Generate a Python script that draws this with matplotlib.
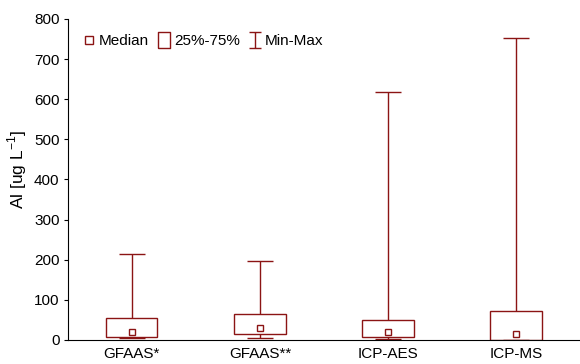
import numpy as np
import matplotlib.pyplot as plt
from matplotlib.patches import Rectangle
from matplotlib.lines import Line2D
from matplotlib.path import Path

plt.rcParams['font.family'] = ['Liberation Sans', 'DejaVu Sans']
plt.rcParams['font.size'] = 11

methods = ['GFAAS*', 'GFAAS**', 'ICP-AES', 'ICP-MS']
al_min = [4, 4, 3, 0]
al_q25 = [8, 15, 7, 0]
al_median = [20, 29, 19, 15]
al_q75 = [55, 65, 49, 72]
al_max = [215, 197, 618, 753]

red = '#8b1414'
box_w = 0.4
cap_w = 0.2

fig = plt.figure(figsize=(5.8, 3.64), dpi=100)
ax = fig.add_axes([0.117, 0.066, 0.883, 0.882])

pos = np.arange(1, len(methods) + 1)
for x, lo, q1, med, q3, hi in zip(pos, al_min, al_q25, al_median, al_q75, al_max):
    ax.add_patch(Rectangle((x - box_w / 2, q1), box_w, q3 - q1,
                           fill=False, edgecolor=red, lw=1.0))
    ax.vlines(x, q3, hi, color=red, lw=1.0)
    ax.vlines(x, lo, q1, color=red, lw=1.0)
    ax.hlines([lo, hi], x - cap_w / 2, x + cap_w / 2, color=red, lw=1.0)
    ax.plot(x, med, 's', ms=4.5, mfc='white', mec=red, mew=1.0)

ax.set_xlim(0.5, 4.5)
ax.set_ylim(0, 800)
ax.set_xticks(pos)
ax.set_xticklabels(methods)
ax.set_yticks(np.arange(0, 801, 100))
ax.tick_params(axis='y', length=3, width=0.8, pad=3)
ax.tick_params(axis='x', length=0, pad=5)
ax.spines['top'].set_visible(False)
ax.spines['right'].set_visible(False)
ax.set_ylabel(r'Al [ug L$^{\mathregular{-1}}$]', fontsize=12.5)
ax.yaxis.set_label_coords(-0.075, 0.53)

# I-beam marker for the min-max legend entry
ibeam = Path([(-0.8, 1), (0.8, 1), (0, 1), (0, -1), (-0.8, -1), (0.8, -1)],
             [Path.MOVETO, Path.LINETO, Path.MOVETO, Path.LINETO, Path.MOVETO, Path.LINETO])
tall_box = Path([(-0.8, -1), (0.8, -1), (0.8, 1), (-0.8, 1), (-0.8, -1)])
handles = [
    Line2D([], [], ls='none', marker='s', ms=5.5, mfc='white', mec=red),
    Line2D([], [], ls='none', marker=tall_box, ms=11, mfc='white', mec=red),
    Line2D([], [], ls='none', marker=ibeam, ms=11, mfc='none', mec=red, mew=1.0),
]
ax.legend(handles, ['Median', '25%-75%', 'Min-Max'], ncol=3, frameon=False,
          loc='upper left', bbox_to_anchor=(0.008, 0.985), handlelength=0.8,
          handletextpad=0.25, columnspacing=0.6, borderaxespad=0.3)

fig.savefig('out.png', dpi=100)
